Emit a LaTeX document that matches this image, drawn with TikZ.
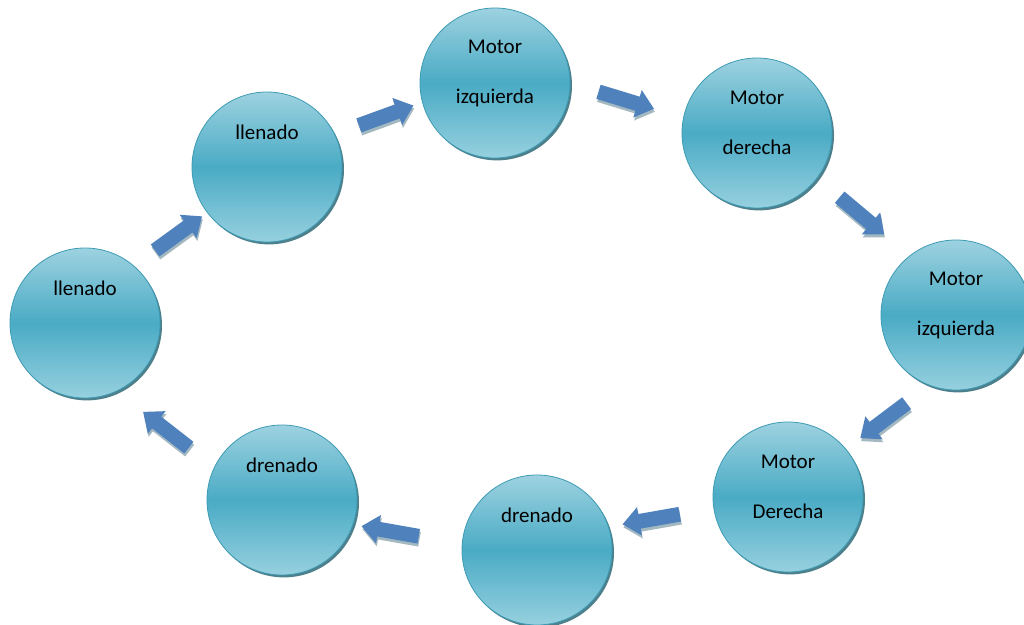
\documentclass[tikz,border=0pt]{standalone}
\usepackage{fontspec}
\setmainfont{Carlito}
\usetikzlibrary{shapes.arrows,shadows}

\definecolor{azulflecha}{HTML}{4F81BD}
\definecolor{sombraflecha}{HTML}{A3B8C0}
\definecolor{circarriba}{HTML}{9DD2E0}
\definecolor{circmedio}{HTML}{4AABC5}
\definecolor{circabajo}{HTML}{96D0DF}
\definecolor{bordecirc}{HTML}{3E9BB4}
\definecolor{sombracirc}{HTML}{22606F}

\tikzset{
  estado/.style={circle, minimum size=75pt, inner sep=0pt, draw=bordecirc, thin,
    top color=circarriba, bottom color=circabajo, middle color=circmedio,
    drop shadow={shadow xshift=1pt, shadow yshift=-1.2pt, fill=sombracirc, opacity=.8}},
  flecha/.style={single arrow, fill=azulflecha, draw=none, inner xsep=0pt, inner ysep=3.5pt,
    minimum height=29pt, minimum width=0pt, single arrow head extend=3.5pt,
    single arrow tip angle=80,
    drop shadow={shadow xshift=.4pt, shadow yshift=-1.5pt, fill=sombraflecha, opacity=1}},
  texto/.style={font=\fontsize{10.5}{13}\selectfont, align=center}
}

\begin{document}
\begin{tikzpicture}[x=0.5pt, y=-0.5pt] % 1 unidad = 1 pixel
\useasboundingbox (0,0) rectangle (1024,625);

% Los estados
\node[estado] (e1) at (85,323) {};
\node[estado] (e2) at (267,167) {};
\node[estado] (e3) at (495,83) {};
\node[estado] (e4) at (757,133) {};
\node[estado] (e5) at (956,315) {};
\node[estado] (e6) at (788,497) {};
\node[estado] (e7) at (537,550) {};
\node[estado] (e8) at (282,500) {};

% Los textos
\node[texto] (t1) at ([yshift=17.5pt]e1.center) {llenado};
\node[texto] (t2) at ([yshift=17.5pt]e2.center) {llenado};
\node[texto] (t3) at ([yshift=5pt]e3.center) {Motor\\[12pt]izquierda};
\node[texto] (t4) at ([yshift=5pt]e4.center) {Motor\\[12pt]derecha};
\node[texto] (t5) at ([yshift=5pt]e5.center) {Motor\\[12pt]izquierda};
\node[texto] (t6) at ([yshift=5pt]e6.center) {Motor\\[12pt]Derecha};
\node[texto] (t7) at ([yshift=17.5pt]e7.center) {drenado};
\node[texto] (t8) at ([yshift=17.5pt]e8.center) {drenado};

% Las flechas entre estados
\path (e1) -- (e2) node[flecha, midway, shift={(-1,-9)}, rotate=36] {};
\path (e2) -- (e3) node[flecha, midway, shift={(1,-8)}, rotate=20] {};
\path (e3) -- (e4) node[flecha, midway, shift={(-4,-9)}, rotate=-17] {};
\path (e4) -- (e5) node[flecha, midway, shift={(2,-11)}, rotate=-40] {};
\path (e5) -- (e6) node[flecha, midway, shift={(15,12)}, rotate=217] {};
\path (e6) -- (e7) node[flecha, midway, shift={(-7,-5)}, rotate=190] {};
\path (e7) -- (e8) node[flecha, midway, shift={(-15,7)}, rotate=170] {};
\path (e8) -- (e1) node[flecha, midway, shift={(-14,21)}, rotate=142] {};
\end{tikzpicture}
\end{document}
